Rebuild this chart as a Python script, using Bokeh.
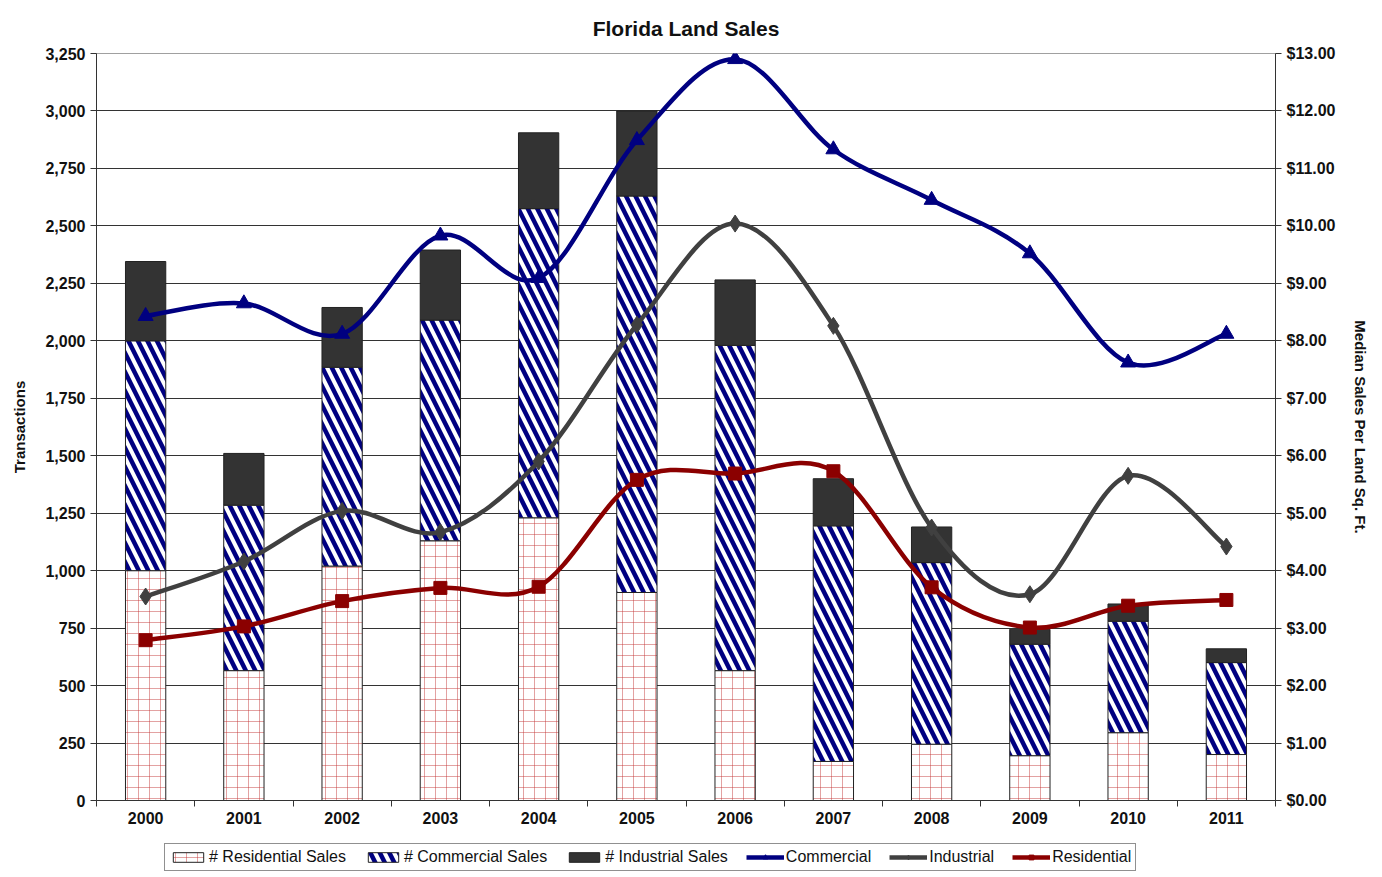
from bokeh.plotting import figure
from bokeh.layouts import column
from bokeh.models import (Range1d, LinearAxis, FixedTicker, NumeralTickFormatter,
                          Legend, LegendItem, ColumnDataSource)
from bokeh.embed import file_html
from bokeh.resources import INLINE

# ---------------- data ----------------
years = ["2000", "2001", "2002", "2003", "2004", "2005",
         "2006", "2007", "2008", "2009", "2010", "2011"]
residential_sales = [1000, 565, 1020, 1130, 1230, 905, 565, 170, 245, 195, 295, 200]
commercial_sales = [1000, 720, 865, 960, 1345, 1725, 1415, 1025, 790, 485, 485, 400]
industrial_sales = [345, 225, 260, 305, 330, 370, 285, 205, 155, 65, 75, 60]

commercial_price = [8.43, 8.65, 8.12, 9.83, 9.09, 11.49, 12.90, 11.33, 10.45, 9.52, 7.62, 8.12]
industrial_price = [3.55, 4.16, 5.04, 4.67, 5.90, 8.28, 10.04, 8.26, 4.75, 3.59, 5.65, 4.42]
residential_price = [2.79, 3.03, 3.47, 3.70, 3.72, 5.58, 5.69, 5.73, 3.71, 3.01, 3.39, 3.49]

left_ticks = list(range(0, 3251, 250))
right_ticks = list(range(0, 14))

FONT = "Liberation Sans"

xs = list(range(len(years)))

p = figure(frame_width=1179, frame_height=747, x_range=Range1d(-0.5, len(years) - 0.5),
           y_range=Range1d(0, 3250), output_backend="svg", toolbar_location=None,
           min_border_left=96, min_border_right=107, min_border_top=53,
           min_border_bottom=0)
p.extra_y_ranges = {"price": Range1d(0, 13)}

p.title.text = "Florida Land Sales"
p.title.align = "center"
p.title.text_font = FONT
p.title.text_font_size = "21px"
p.title.text_font_style = "bold"
p.title.text_color = "#111111"
p.title.standoff = 28

p.outline_line_color = "#a0a0a0"
p.background_fill_color = "white"
p.border_fill_color = "white"

# grid
p.xgrid.visible = False
p.ygrid.ticker = FixedTicker(ticks=left_ticks)
p.ygrid.grid_line_color = "#333333"
p.ygrid.grid_line_width = 1

# x axis
xa = p.xaxis[0]
xa.ticker = FixedTicker(ticks=xs, minor_ticks=[x - 0.5 for x in xs] + [len(xs) - 0.5])
xa.major_label_overrides = {i: y for i, y in enumerate(years)}
xa.major_tick_line_color = None
xa.major_tick_out = 6
xa.minor_tick_out = 6
xa.minor_tick_in = 0
xa.minor_tick_line_color = "#333333"
xa.axis_line_color = "#333333"
xa.major_label_text_font = FONT
xa.major_label_text_font_size = "16px"
xa.major_label_text_font_style = "bold"
xa.major_label_text_color = "#111111"

# left axis
ya = p.yaxis[0]
ya.ticker = FixedTicker(ticks=left_ticks)
ya.formatter = NumeralTickFormatter(format="0,0")
ya.axis_label = "Transactions"
ya.axis_label_text_font = FONT
ya.axis_label_text_font_size = "15px"
ya.axis_label_text_font_style = "bold"
ya.axis_label_text_color = "#111111"
ya.axis_label_standoff = 14
ya.major_label_text_font = FONT
ya.major_label_text_font_size = "16px"
ya.major_label_text_font_style = "bold"
ya.major_label_text_color = "#111111"
ya.major_tick_out = 6
ya.major_tick_in = 0
ya.minor_tick_line_color = None
ya.axis_line_color = "#333333"
ya.major_tick_line_color = "#333333"

# right axis
ra = LinearAxis(y_range_name="price", ticker=FixedTicker(ticks=right_ticks),
                formatter=NumeralTickFormatter(format="$0.00"),
                axis_label="Median Sales Per Land Sq. Ft.")
ra.axis_label_text_font = FONT
ra.axis_label_text_font_size = "15px"
ra.axis_label_text_font_style = "bold"
ra.axis_label_text_color = "#111111"
ra.axis_label_standoff = 14
ra.major_label_text_font = FONT
ra.major_label_text_font_size = "16px"
ra.major_label_text_font_style = "bold"
ra.major_label_text_color = "#111111"
ra.major_tick_out = 6
ra.major_tick_in = 0
ra.minor_tick_line_color = None
ra.axis_line_color = "#333333"
ra.major_tick_line_color = "#333333"
p.add_layout(ra, "right")

# ---------------- styles ----------------
bar_w = 0.41
res_style = dict(fill_color="white", line_color="#222222", line_width=1,
                 hatch_pattern="+", hatch_color="#c03030", hatch_alpha=0.45,
                 hatch_scale=11, hatch_weight=1)
com_style = dict(fill_color="white", line_color="#222222", line_width=1,
                 hatch_pattern="left_diagonal_line", hatch_color="#000080",
                 hatch_scale=19, hatch_weight=4.5)
ind_style = dict(fill_color="#333333", line_color="#222222", line_width=1)

# ---------------- bars ----------------
res_top = residential_sales
com_top = [r + c for r, c in zip(residential_sales, commercial_sales)]
ind_top = [t + i for t, i in zip(com_top, industrial_sales)]
bottoms = [0] * len(years)

p.vbar(x=xs, bottom=bottoms, top=res_top, width=bar_w, **res_style)
p.vbar(x=xs, bottom=res_top, top=com_top, width=bar_w, **com_style)
p.vbar(x=xs, bottom=com_top, top=ind_top, width=bar_w, **ind_style)


# ---------------- smoothed lines (Bezier through data points) ----------------
def bezier_source(xv, yv):
    n = len(xv)
    d = dict(x0=[], y0=[], x1=[], y1=[], cx0=[], cy0=[], cx1=[], cy1=[])
    for i in range(n - 1):
        i0 = max(i - 1, 0)
        i3 = min(i + 2, n - 1)
        x0, y0 = xv[i], yv[i]
        x1, y1 = xv[i + 1], yv[i + 1]
        d["x0"].append(x0); d["y0"].append(y0)
        d["x1"].append(x1); d["y1"].append(y1)
        d["cx0"].append(x0 + (x1 - xv[i0]) / 6.0)
        d["cy0"].append(y0 + (y1 - yv[i0]) / 6.0)
        d["cx1"].append(x1 - (xv[i3] - x0) / 6.0)
        d["cy1"].append(y1 - (yv[i3] - y0) / 6.0)
    return ColumnDataSource(d)


series = [
    ("Commercial", commercial_price, "#000080", "triangle", 15),
    ("Industrial", industrial_price, "#404040", "diamond", 17),
    ("Residential", residential_price, "#8b0000", "square", 13),
]
for name, vals, color, marker, size in series:
    p.bezier(x0="x0", y0="y0", x1="x1", y1="y1", cx0="cx0", cy0="cy0",
             cx1="cx1", cy1="cy1", source=bezier_source(xs, vals),
             line_color=color, line_width=4.5, y_range_name="price")
    p.scatter(x=xs, y=vals, marker=marker, size=size, fill_color=color,
              line_color=color, y_range_name="price")

# ---------------- legend strip (separate figure below the chart) ----------------
lf = figure(width=1382, height=47, x_range=Range1d(0, 1), y_range=Range1d(0, 1),
            x_axis_type=None, y_axis_type=None, output_backend="svg",
            toolbar_location=None, min_border=0)
lf.outline_line_color = None
lf.xgrid.visible = False
lf.ygrid.visible = False

# legend-only renderers, placed outside the visible range of the strip
off = [-10.0]
l_res = lf.vbar(x=off, top=off, width=0.1, **res_style)
l_com = lf.vbar(x=off, top=off, width=0.1, **com_style)
l_ind = lf.vbar(x=off, top=off, width=0.1, **ind_style)
items = [LegendItem(label="# Residential Sales", renderers=[l_res]),
         LegendItem(label="# Commercial Sales", renderers=[l_com]),
         LegendItem(label="# Industrial Sales", renderers=[l_ind])]
for name, vals, color, marker, size in series:
    ln = lf.line(x=off + off, y=off + off, line_color=color, line_width=4.5)
    mk = lf.scatter(x=off, y=off, marker=marker, size=size, fill_color=color,
                    line_color=color)
    items.append(LegendItem(label=name, renderers=[ln, mk]))

legend = Legend(items=items, orientation="horizontal", location=(68, 2))
legend.label_text_font = FONT
legend.label_text_font_size = "16px"
legend.label_text_color = "#111111"
legend.glyph_width = 38
legend.glyph_height = 12
legend.label_standoff = 2
legend.spacing = 18
legend.padding = 4
legend.margin = 0
legend.border_line_color = "#222222"
legend.border_line_width = 1
legend.background_fill_alpha = 1
lf.add_layout(legend, "center")

layout = column(p, lf, spacing=0)
open("out.html", "w").write(file_html(layout, INLINE))
